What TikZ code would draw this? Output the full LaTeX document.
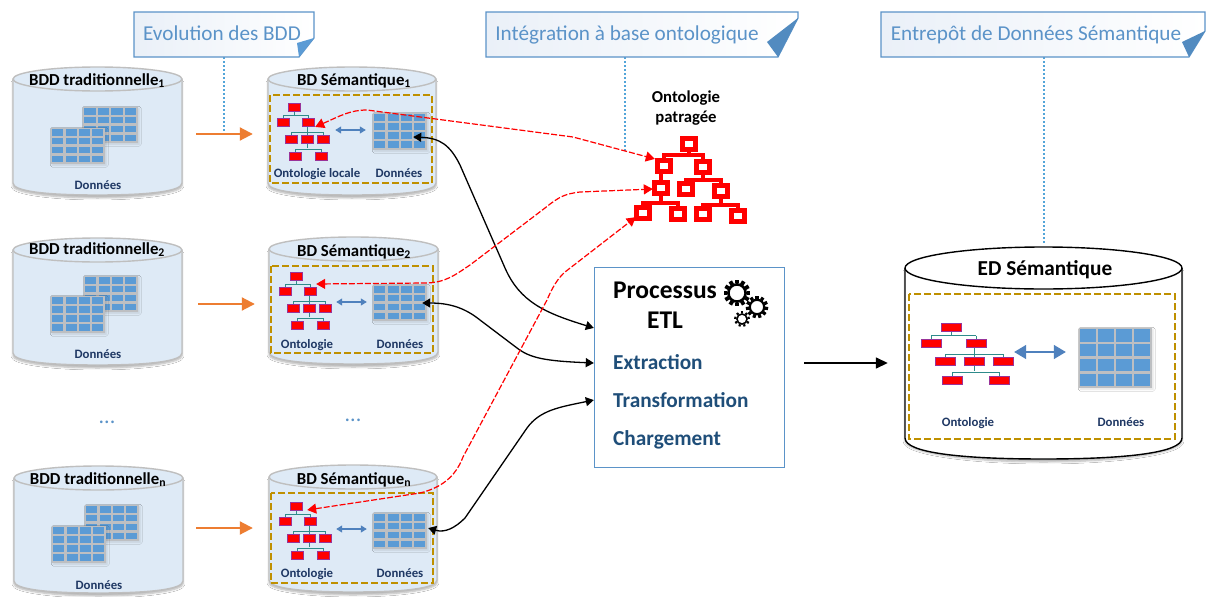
\documentclass[tikz,border=0pt]{standalone}
\usepackage{fontspec}
\setmainfont{Carlito}
\usetikzlibrary{arrows.meta,calc,shadows.blur}
\definecolor{cylfill}{HTML}{DEEAF6}
\definecolor{cylline}{HTML}{BFBFBF}
\definecolor{cellblue}{HTML}{5B9BD5}
\definecolor{gridgray}{HTML}{BDBFC2}
\definecolor{boxgold}{HTML}{BF9000}
\definecolor{darknavy}{HTML}{1F3864}
\definecolor{etlblue}{HTML}{1F4E79}
\definecolor{teal2}{HTML}{2E8B8B}
\definecolor{nodeedge}{HTML}{993399}
\definecolor{lineblue}{HTML}{5B93C8}
\definecolor{arrowblue}{HTML}{4F81BD}
\definecolor{orange2}{HTML}{ED7D31}
\definecolor{capfill}{HTML}{EAF0F8}
\tikzset{
 x=1pt,y=-1pt,
 cyltitle/.style={font=\bfseries\fontsize{16.8}{19}\selectfont,inner sep=0pt,text=black,text height=11pt,text depth=0pt},
 smalllabel/.style={font=\bfseries\fontsize{12.8}{15}\selectfont,inner sep=0pt,text=darknavy,text height=9pt,text depth=0pt},
 caption/.style={font=\fontsize{21.2}{25}\selectfont,inner sep=0pt,text=lineblue,text height=14pt,text depth=0pt},
 etlitem/.style={font=\bfseries\fontsize{21.3}{25}\selectfont,inner sep=0pt,anchor=west,text=etlblue,text height=12pt,text depth=0pt},
 etltitle/.style={font=\bfseries\fontsize{25.5}{29}\selectfont,inner sep=0pt,text=black,text height=17pt,text depth=0pt},
 capbox/.style={draw=lineblue,left color=capfill,right color=white,line width=1.2pt},
 dashbox/.style={draw=boxgold,line width=1.5pt,dash pattern=on 7pt off 3pt},
 dotline/.style={draw=cellblue!90!cyan,line width=1.4pt,dash pattern=on 2pt off 2pt},
 orangearrow/.style={draw=orange2,line width=2pt,-{Triangle[length=13pt,width=13pt]}},
 twinarrow/.style={draw=arrowblue,line width=1.2pt,{Triangle[length=6pt,width=7pt]}-{Triangle[length=6pt,width=7pt]}},
 reddash/.style={draw=red,line width=1.2pt,dash pattern=on 6pt off 2pt,{Triangle[length=9pt,width=10pt]}-{Triangle[length=9pt,width=10pt]}},
 blackcurve/.style={draw=black,line width=1.3pt,{Triangle[length=8pt,width=9pt]}-{Triangle[length=8pt,width=9pt]}},
 treebus/.style={draw=teal2,line width=.9pt},
 rednode/.style={draw=red,fill=white,line width=4.5pt,minimum width=13pt,minimum height=11pt,inner sep=0pt},
 redbus/.style={draw=red,line width=3.4pt},
 endpt/.style={inner sep=0pt,minimum size=0pt},
 dots/.style={font=\fontsize{22}{24}\selectfont,text=lineblue,inner sep=0pt,anchor=base},
}
% cylinder: name, left, right, top-center y, ry, bottom y, fill, line
\newcommand{\cyl}[8]{%
 \fill[cellblue!30,opacity=.45,blur shadow={shadow xshift=0pt,shadow yshift=-3pt,shadow blur steps=6,shadow opacity=30}]
   (#2,#4) -- (#2,{#6-#5}) arc[start angle=180,end angle=360,x radius={(#3-#2)/2},y radius=-#5] -- (#3,#4) -- cycle;
 \path[fill=#7] (#2,#4) -- (#2,{#6-#5}) .. controls (#2,{#6-#5*.3}) and ({#2+(#3-#2)*.2},#6) .. ({(#2+#3)/2},#6) .. controls ({#3-(#3-#2)*.2},#6) and (#3,{#6-#5*.3}) .. (#3,{#6-#5}) -- (#3,#4) -- cycle;
 \draw[draw=#8,line width=1.4pt] (#2,#4) -- (#2,{#6-#5}) .. controls (#2,{#6-#5*.3}) and ({#2+(#3-#2)*.2},#6) .. ({(#2+#3)/2},#6) .. controls ({#3-(#3-#2)*.2},#6) and (#3,{#6-#5*.3}) .. (#3,{#6-#5}) -- (#3,#4);
 \draw[draw=#8,fill=#7,line width=1.4pt] ({(#2+#3)/2},#4) ellipse[x radius={(#3-#2)/2},y radius=#5];
 \coordinate (#1) at ({(#2+#3)/2},#4);
}
% grid: name, left, top, right, bottom
\newcommand{\datagrid}[5]{%
 \node[fill=gridgray,inner sep=0pt,minimum width={#4-#2},minimum height={#5-#3},anchor=north west,blur shadow={shadow xshift=1pt,shadow yshift=-1pt,shadow opacity=12}] (#1) at (#2,#3) {};
 \foreach \i in {0,1,2,3}{\foreach \j in {0,1,2,3}{
  \fill[cellblue] ({#2+1.2+\i*(#4-#2-.8)/4},{#3+1.2+\j*(#5-#3-.8)/4}) rectangle ++({(#4-#2-.8)/4-2.2},{(#5-#3-.8)/4-2.4});
 }}
}
% tree: name, root x, root y, scale x, scale y, w, h
\newcommand{\ontotree}[7]{%
 \begin{scope}[shift={(#2,#3)}]
  \coordinate (#1) at (0,0);
  \draw[treebus] (0,0) -- (0,{8*#5}) (-11*#4,{8*#5}) -- (14*#4,{8*#5}) (-11*#4,{8*#5}) -- (-11*#4,{15*#5}) (14*#4,{8*#5}) -- (14*#4,{15*#5});
  \draw[treebus] (13*#4,{15*#5}) -- (13*#4,{41*#5}) (-3*#4,{25*#5}) -- (29*#4,{25*#5}) (-3*#4,{25*#5}) -- (-3*#4,{32*#5}) (29*#4,{25*#5}) -- (29*#4,{32*#5});
  \draw[treebus] (1*#4,{42*#5}) -- (27*#4,{42*#5}) (1*#4,{42*#5}) -- (1*#4,{49*#5}) (27*#4,{42*#5}) -- (27*#4,{49*#5});
  \foreach \a/\b in {0/0,-11/15,14/15,-3/32,13/32,29/32,1/49,27/49}{
   \fill[draw=nodeedge,fill=red,line width=.8pt] ({\a*#4-#6/2},{\b*#5-#7/2}) rectangle ++(#6,#7);
  }
 \end{scope}
}
\newcommand{\gear}[4]{%
 \foreach \k in {1,...,#4}{
  \fill[black,rotate around={\k*360/#4:(#1,#2)}] ({#1-#3*.16},{#2-#3*1.12}) rectangle ({#1+#3*.16},{#2-#3*.8});
 }
 \draw[black,line width={#3*.22}] (#1,#2) circle[radius={#3*.72}];
}
\begin{document}
\begin{tikzpicture}
\useasboundingbox (0,0) rectangle (1208,597);
\fill[white] (0,0) rectangle (1208,597);

% callouts
\node[endpt] (capA) at (224,57) {};
\node[endpt] (capB) at (625,57) {};
\node[endpt] (capC) at (1044,57) {};
\node[endpt] (dotA) at (224,134) {};
\node[endpt] (dotB) at (625,152) {};
\node[endpt] (dotC) at (1044,244) {};
\draw[dotline] (capA) -- (dotA);
\draw[dotline] (capB) -- (dotB);
\draw[dotline] (capC) -- (dotC);
\draw[capbox] (134,12) -- (314,12) -- (314,38) -- (299,57) -- (134,57) -- cycle;
\fill[cellblue] (314,38) -- (297,43) -- (299,57) -- cycle;
\node[caption] (t1) at (222,33) {Evolution des BDD};
\draw[capbox] (486,12) -- (798,12) -- (798,18) -- (778,57) -- (486,57) -- cycle;
\fill[cellblue!90!black] (798,18) -- (767,42) -- (778,57) -- cycle;
\node[caption] (t2) at (627,33) {Intégration à base ontologique};
\draw[capbox] (881,12) -- (1205,12) -- (1205,31) -- (1189,57) -- (881,57) -- cycle;
\fill[cellblue!90!black] (1205,31) -- (1182,42) -- (1189,57) -- cycle;
\node[caption] (t3) at (1036,33) {Entrepôt de Données Sémantique};

% left cylinders
\cyl{c1}{13}{182}{79}{12}{195}{cylfill}{cylline}
\cyl{c2}{13}{182}{250}{12}{365}{cylfill}{cylline}
\cyl{c3}{14}{183}{478}{12}{593}{cylfill}{cylline}
\node[cyltitle] (lt1) at (97,79.5) {BDD traditionnelle\textsubscript{1}};
\node[cyltitle] (lt2) at (97,248.5) {BDD traditionnelle\textsubscript{2}};
\node[cyltitle] (lt3) at (98,478.5) {BDD traditionnelle\textsubscript{n}};
\datagrid{g1b}{83}{107}{138}{143}\datagrid{g1a}{51}{128}{105}{164}
\datagrid{g2b}{84}{276}{138}{312}\datagrid{g2a}{51}{296}{105}{333}
\datagrid{g3b}{85}{505}{139}{541}\datagrid{g3a}{52}{526}{106}{563}
\node[smalllabel] (ld1) at (98,185) {Données};
\node[smalllabel] (ld2) at (98,354) {Données};
\node[smalllabel] (ld3) at (99,585) {Données};
\node[dots] (e1) at (107,423) {...};
\node[dots] (e2) at (353,421) {...};

% semantic cylinders
\cyl{s1}{268}{436}{79}{12}{195}{cylfill}{cylline}
\cyl{s2}{269}{438}{249}{12}{364}{cylfill}{cylline}
\cyl{s3}{269}{437}{477}{12}{592}{cylfill}{cylline}
\node[cyltitle] (st1) at (354,79.5) {BD Sémantique\textsubscript{1}};
\node[cyltitle] (st2) at (354,250.5) {BD Sémantique\textsubscript{2}};
\node[cyltitle] (st3) at (354,478.5) {BD Sémantique\textsubscript{n}};
\draw[dashbox] (270,95) rectangle (432,183);
\draw[dashbox] (271,266) rectangle (433,353);
\draw[dashbox] (271,493) rectangle (433,583);
\ontotree{o1}{294}{107}{1}{1}{12}{8}
\ontotree{o2}{296}{276}{1}{1}{12}{8}
\ontotree{o3}{296}{506}{1}{1}{12}{8}
\datagrid{d1}{373}{113}{427}{150}
\datagrid{d2}{373}{285}{427}{321}
\datagrid{d3}{373}{513}{427}{549}
\node[smalllabel] (sl1) at (317,173) {Ontologie locale};
\node[smalllabel] (sd1) at (399,173) {Données};
\node[smalllabel] (sl2) at (307,344) {Ontologie};
\node[smalllabel] (sd2) at (400,344) {Données};
\node[smalllabel] (sl3) at (307,573) {Ontologie};
\node[smalllabel] (sd3) at (400,573) {Données};
\node[endpt] (ta1) at (335,130) {};\node[endpt] (tb1) at (366,130) {};
\node[endpt] (ta2) at (336,302) {};\node[endpt] (tb2) at (367,302) {};
\node[endpt] (ta3) at (336,529) {};\node[endpt] (tb3) at (367,529) {};
\draw[twinarrow] (ta1) -- (tb1);
\draw[twinarrow] (ta2) -- (tb2);
\draw[twinarrow] (ta3) -- (tb3);

% orange arrows
\node[endpt] (oa1) at (196,134) {};\node[endpt] (ob1) at (253,134) {};
\node[endpt] (oa2) at (198,304) {};\node[endpt] (ob2) at (255,304) {};
\node[endpt] (oa3) at (196,528) {};\node[endpt] (ob3) at (253,528) {};
\draw[orangearrow] (oa1) -- (ob1);
\draw[orangearrow] (oa2) -- (ob2);
\draw[orangearrow] (oa3) -- (ob3);

% ED
\cyl{ed}{905}{1182}{268}{21}{459}{white}{black}
\node[font=\bfseries\fontsize{21.3}{24}\selectfont,inner sep=0,text height=14pt,text depth=0pt] (edt) at (1045,268) {ED Sémantique};
\draw[dashbox] (909,294) rectangle (1175,439);
\ontotree{oe}{951}{327}{1.8}{1.08}{20}{8}
\datagrid{de}{1079}{328}{1152}{388}
\node[smalllabel] (el) at (968,422) {Ontologie};
\node[smalllabel] (ed2) at (1121,422) {Données};
\node[endpt] (tae) at (1014,352) {};\node[endpt] (tbe) at (1066,352) {};
\draw[draw=arrowblue,line width=1.5pt,{Triangle[length=12pt,width=14pt]}-{Triangle[length=12pt,width=14pt]}] (tae) -- (tbe);

% shared ontology
\node[font=\bfseries\fontsize{16.7}{20}\selectfont,align=center,inner sep=0] (shared) at (686,108) {Ontologie\\patragée};
\draw[redbus] (689,144) -- (689,155) (664,166) -- (664,155) -- (703,155) -- (703,167)
 (703,167) -- (703,180) (686,189) -- (686,180) -- (721,180) -- (721,191)
 (661,166) -- (661,188) (661,188) -- (661,203) (643,213) -- (643,203) -- (678,203) -- (678,214)
 (721,191) -- (721,205) (703,214) -- (703,205) -- (738,205) -- (738,216);
\foreach \n/\a/\b in {r0/689/144,r1/664/166,r2/703/167,r3/661/188,r4/686/189,r5/721/191,r6/643/213,r7/678/214,r8/703/214,r9/738/216}{
 \node[rednode] (\n) at (\a,\b) {};
}

% ETL
\node[draw=lineblue,fill=white,line width=1.3pt,minimum width=190pt,minimum height=200pt,inner sep=0,anchor=north west] (etl) at (594,267) {};
\node[etltitle] (etl1) at (665,289.5) {Processus};
\node[etltitle] (etl2) at (665,319.5) {ETL};
\node[etlitem] (e1i) at (613,363) {Extraction};
\node[etlitem] (e2i) at (613,401) {Transformation};
\node[etlitem] (e3i) at (613,439) {Chargement};
\gear{737}{293}{12}{12}
\gear{757}{307}{10}{11}
\gear{742}{319}{7}{9}
\node[endpt] (p1) at (594,328) {};
\node[endpt] (p2) at (594,363) {};
\node[endpt] (p3) at (594,400) {};
\node[endpt] (q1) at (413,137) {};
\node[endpt] (q2) at (422,303) {};
\node[endpt] (q3) at (428,528) {};
\draw[blackcurve] (q1) .. controls (440,138) and (450,145) .. (460,165) -- (505,268) .. controls (520,302) and (545,313) .. (p1);
\draw[blackcurve] (q2) .. controls (450,303) and (465,308) .. (480,320) -- (517,348) .. controls (530,358) and (545,361) .. (p2);
\draw[blackcurve] (q3) .. controls (445,533) and (455,528) .. (465,518) -- (527,428) .. controls (540,410) and (560,407) .. (p3);

% red dashed
\node[endpt] (ra1) at (315,127) {};
\node[endpt] (rb1) at (655,159) {};
\node[endpt] (ra2) at (316,284) {};
\node[endpt] (rb2) at (653,189) {};
\node[endpt] (ra3) at (307,510) {};
\node[endpt] (rb3) at (636,217) {};
\draw[reddash] (ra1) .. controls (340,116) and (350,110) .. (367,110) -- (573,137) -- (rb1);
\draw[reddash] (ra2) -- (425,283) .. controls (445,283) and (455,275) .. (470,265) -- (545,208) .. controls (560,196) and (565,194) .. (580,192) -- (rb2);
\draw[reddash] (ra3) -- (420,493) .. controls (440,488) and (455,478) .. (463,457) -- (547,300) .. controls (552,288) and (558,278) .. (565,272) -- (rb3);

% ED arrow
\node[endpt] (ea) at (804,363) {};
\node[endpt] (eb) at (888,363) {};
\draw[draw=black,line width=1.5pt,-{Triangle[length=12pt,width=11pt]}] (ea) -- (eb);
\end{tikzpicture}
\end{document}
